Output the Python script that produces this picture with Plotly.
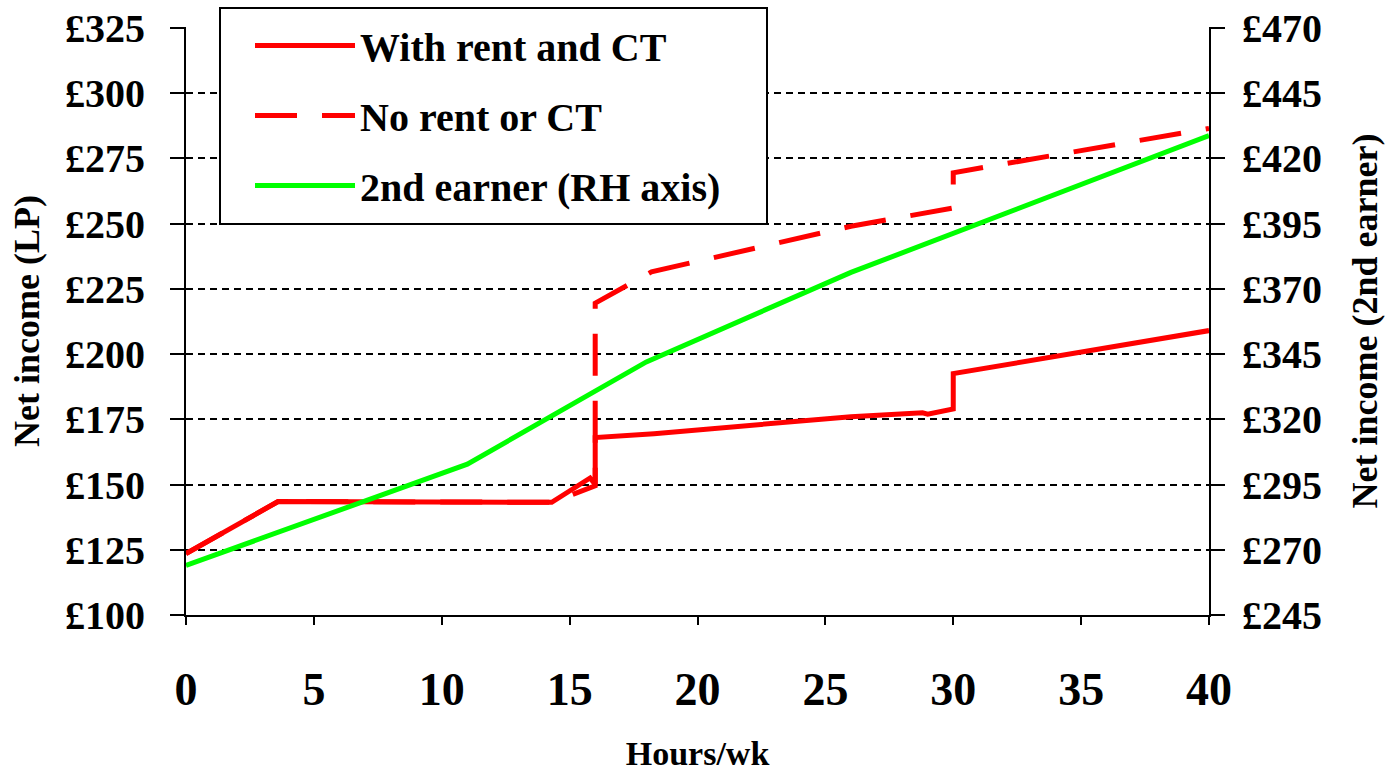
import plotly.graph_objects as go

# ---- data ----
hours_rent = [0, 3.6, 14.3, 15.8, 16.0, 16.0, 18.3, 26.0, 28.8, 29.0, 30.0, 30.0, 40]
income_rent = [123.5, 143.5, 143.2, 152.5, 150.0, 168.0, 169.5, 176.0, 177.5, 177.0, 179.0, 192.5, 209.0]

hours_norent = [0, 3.6, 14.3, 16.0, 16.0, 18.2, 26.0, 30.0, 30.0, 40]
income_norent = [123.5, 143.5, 143.2, 149.5, 219.5, 231.5, 249.0, 256.0, 269.5, 286.5]

hours_2nd = [0, 11.0, 18.0, 26.0, 40]
income_2nd = [264.0, 302.8, 342.0, 376.3, 428.7]

x_ticks = [0, 5, 10, 15, 20, 25, 30, 35, 40]
left_ticks = [100, 125, 150, 175, 200, 225, 250, 275, 300, 325]
right_ticks = [245, 270, 295, 320, 345, 370, 395, 420, 445, 470]

names = ["With rent and CT", "No rent or CT", "2nd earner (RH axis)"]

FONT = "Times New Roman, Liberation Serif, serif"
RED = "#FF0000"
GREEN = "#00FF00"

# plot area in the window: x 186..1209, y 27..615 (body margin removed below)
W, H = 1385, 772
ML, MT = 186, 27
PW, PH = 1023, 588
TOP_PAD = 0.35  # small headroom so the top gridline (325) is drawn

fig = go.Figure()
fig.add_trace(go.Scatter(x=hours_rent, y=income_rent, mode="lines", name=names[0],
                         legendgroup="a",
                         line=dict(color=RED, width=5)))
fig.add_trace(go.Scatter(x=hours_norent, y=income_norent, mode="lines", name=names[1],
                         legendgroup="b",
                         line=dict(color=RED, width=5, dash="42px,25px")))
fig.add_trace(go.Scatter(x=hours_2nd, y=income_2nd, mode="lines", name=names[2],
                         legendgroup="c",
                         line=dict(color=GREEN, width=5), yaxis="y2"))

# legend frame (white box with black border, covering the gridlines)
fig.add_shape(type="rect", xref="paper", yref="paper",
              x0=34 / PW, x1=581 / PW,
              y0=(PH - 197) / PH, y1=(PH + 19) / PH,
              fillcolor="white", line=dict(color="black", width=2), layer="above")

fig.update_layout(
    width=W, height=H, autosize=False,
    margin=dict(l=ML, r=W - ML - PW, t=MT, b=H - MT - PH, pad=0, autoexpand=False),
    paper_bgcolor="white", plot_bgcolor="white",
    font=dict(family=FONT, color="black", weight="bold"),
    showlegend=True,
    legend=dict(x=64 / PW, y=(PH + 14) / PH, xanchor="left", yanchor="top",
                bgcolor="rgba(0,0,0,0)", borderwidth=0,
                font=dict(family=FONT, size=40, color="black", weight="bold"),
                itemwidth=100, tracegroupgap=15),
    xaxis=dict(range=[0, 40], tickvals=x_ticks, showgrid=False, zeroline=False,
               automargin=False, ticklabeloverflow="allow",
               showline=True, linecolor="black", linewidth=2,
               ticks="outside", ticklen=8, tickwidth=2, tickcolor="black",
               tickfont=dict(family=FONT, size=46, weight="bold"),
               ticklabelstandoff=25,
               title=dict(text="Hours/wk", font=dict(family=FONT, size=34, weight="bold"),
                          standoff=50)),
    yaxis=dict(range=[left_ticks[0], left_ticks[-1] + TOP_PAD], tickvals=left_ticks,
               ticktext=["£%d" % v for v in left_ticks],
               automargin=False, ticklabeloverflow="allow",
               showgrid=True, gridcolor="black", gridwidth=2, griddash="7px,5px",
               zeroline=False,
               showline=True, linecolor="black", linewidth=2,
               ticks="outside", ticklen=14, tickwidth=2, tickcolor="black",
               tickfont=dict(family=FONT, size=40, weight="bold"),
               ticklabelstandoff=17,
               title=dict(text="Net income (LP)", font=dict(family=FONT, size=36, weight="bold"),
                          standoff=14)),
    yaxis2=dict(range=[right_ticks[0], right_ticks[-1] + TOP_PAD], tickvals=right_ticks,
                ticktext=["£%d" % v for v in right_ticks],
                automargin=False, ticklabeloverflow="allow",
                overlaying="y", side="right", showgrid=False, zeroline=False,
                showline=True, linecolor="black", linewidth=2,
                ticks="outside", ticklen=14, tickwidth=2, tickcolor="black",
                tickfont=dict(family=FONT, size=40, weight="bold"),
                ticklabelstandoff=9,
                title=dict(text="Net income (2nd earner)",
                           font=dict(family=FONT, size=36, weight="bold"), standoff=31)),
)

fig.write_html("out.html", config={"displayModeBar": False},
               post_script="document.body.style.margin='0';document.body.style.overflow='hidden';")
